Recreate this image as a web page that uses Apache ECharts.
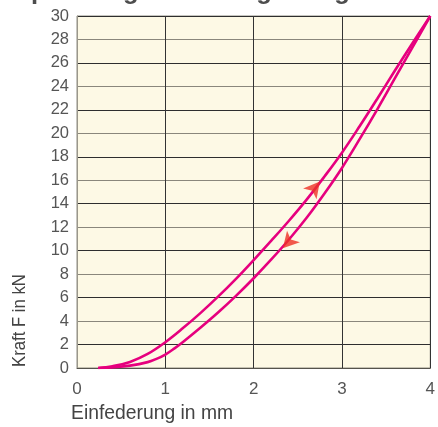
<!DOCTYPE html>
<html>
<head>
<meta charset="utf-8">
<script src="https://cdn.jsdelivr.net/npm/echarts@6/dist/echarts.min.js"></script>
<style>
  html, body { margin: 0; padding: 0; background: #ffffff; }
  #chart { width: 438px; height: 427px; }
</style>
</head>
<body>
<div id="chart"></div>
<script>
// Spring force vs. deflection: loading and unloading branches (hysteresis loop)
const titleText = 'Spannungs-Dehnungs-Diagramm';
const xAxisName = 'Einfederung in mm';
const yAxisName = 'Kraft F in kN';

const xMin = 0, xMax = 4, xStep = 1;
const yMin = 0, yMax = 30, yStep = 2;

// Loading branch [Einfederung mm, Kraft kN]
const loading = [
  [0.24, 0], [0.40, 0.15], [0.60, 0.52], [0.80, 1.2], [1.00, 2.2],
  [1.20, 3.4], [1.40, 4.7], [1.60, 6.1], [1.80, 7.6], [2.00, 9.2],
  [2.20, 10.85], [2.40, 12.55], [2.60, 14.35], [2.80, 16.3], [3.00, 18.35],
  [3.20, 20.6], [3.40, 22.95], [3.60, 25.35], [3.80, 27.7], [4.00, 30]
];

// Unloading branch [Einfederung mm, Kraft kN]
const unloading = [
  [0.24, 0], [0.40, 0.05], [0.60, 0.2], [0.80, 0.5], [0.90, 0.78],
  [1.00, 1.15], [1.10, 1.65], [1.20, 2.22], [1.40, 3.45], [1.60, 4.75],
  [1.80, 6.15], [2.00, 7.65], [2.20, 9.25], [2.40, 10.95], [2.60, 12.8],
  [2.80, 14.85], [3.00, 17.05], [3.20, 19.5], [3.40, 22.05], [3.60, 24.7],
  [3.80, 27.35], [4.00, 30]
];

// Direction markers on each branch: [x, y, rotation in degrees]
const arrowUp = [2.75, 15.9, -39];
const arrowDown = [2.33, 10.2, 138];

const curveColor = '#e6007e';
const arrowColor = '#ee3124';
const labelFont = '"Liberation Sans", Arial, sans-serif';

const chart = echarts.init(document.getElementById('chart'), null, { renderer: 'canvas' });

chart.setOption({
  animation: false,
  backgroundColor: '#ffffff',
  grid: {
    left: 77, top: 16, width: 358, height: 352,
    show: true,
    backgroundColor: '#fdf9e5',
    borderColor: '#8f8c80',
    borderWidth: 1
  },
  xAxis: {
    type: 'value',
    min: xMin, max: xMax, interval: xStep,
    axisLine: { show: true, lineStyle: { color: '#55534c', width: 1 } },
    axisTick: { show: false },
    axisLabel: {
      color: '#555555', fontSize: 17, fontFamily: labelFont, margin: 13
    },
    splitLine: { show: true, lineStyle: { color: '#333333', width: 1 } }
  },
  yAxis: {
    type: 'value',
    min: yMin, max: yMax, interval: yStep,
    axisLine: { show: true, lineStyle: { color: '#9a978b', width: 1 } },
    axisTick: { show: false },
    axisLabel: {
      color: '#555555', fontSize: 16.5, fontFamily: labelFont, margin: 8
    },
    splitLine: { show: true, lineStyle: { color: ['#8a877c', '#2e2e2e'], width: 1 } }
  },
  graphic: [
    {
      type: 'text', x: 14, y: -8,
      style: {
        text: titleText, fill: '#4d4d4d',
        font: 'bold 25.5px ' + labelFont,
        align: 'left', verticalAlign: 'middle'
      }
    },
    {
      type: 'text', x: 71, y: 413, scaleX: 0.92,
      style: {
        text: xAxisName, fill: '#444444',
        font: '21px ' + labelFont,
        align: 'left', verticalAlign: 'middle'
      }
    },
    {
      type: 'text', x: 20, y: 367, rotation: Math.PI / 2, scaleX: 0.88,
      style: {
        text: yAxisName, fill: '#444444',
        font: '19px ' + labelFont,
        align: 'left', verticalAlign: 'middle'
      }
    }
  ],
  series: [
    {
      type: 'line', data: loading, smooth: 0.4,
      showSymbol: false, symbol: 'none',
      lineStyle: { color: curveColor, width: 2.6 }, z: 3
    },
    {
      type: 'line', data: unloading, smooth: 0.4,
      showSymbol: false, symbol: 'none',
      lineStyle: { color: curveColor, width: 2.6 }, z: 3
    },
    {
      type: 'scatter', z: 5,
      symbol: 'arrow', symbolSize: [13, 16],
      itemStyle: { color: arrowColor },
      data: [
        { value: [arrowUp[0], arrowUp[1]], symbolRotate: arrowUp[2] },
        { value: [arrowDown[0], arrowDown[1]], symbolRotate: arrowDown[2] }
      ]
    }
  ]
});
</script>
</body>
</html>
